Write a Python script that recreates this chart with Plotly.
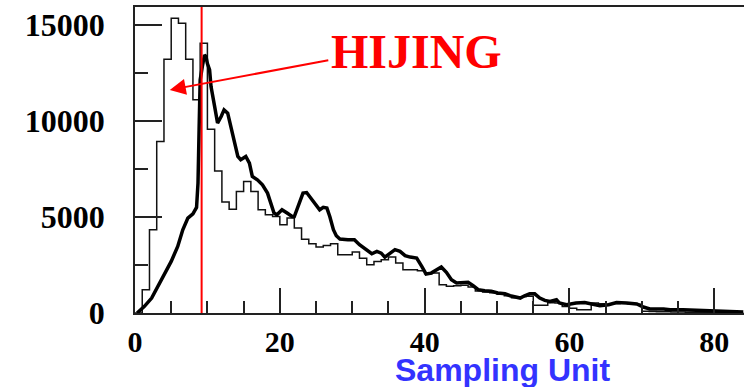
import plotly.graph_objects as go

# HIJING distribution: unit-width bins starting at 0
hijing_counts = [0, 1215, 4340, 8940, 13230, 15360, 15100, 13230, 11110, 14060,
                 9580, 7400, 5780, 5410, 6330, 6850, 6330, 5380, 5120, 5030,
                 4600, 4950, 4430, 3850, 3610, 3440, 3520, 3610, 3040, 3040,
                 3180, 2860, 2515, 2690, 2780, 2915, 2600, 2255, 2255, 2200,
                 2050, 2080, 1470, 1400, 1420, 1450, 1350, 1150, 1100, 1050,
                 980, 900, 800, 850, 870, 400, 400, 540, 520, 345,
                 250, 170, 170, 520, 480, 450, 500, 520, 480, 450,
                 85, 80, 70, 60, 50, 50, 40, 40, 30, 30,
                 20, 20, 20, 10]
hijing_edges = list(range(len(hijing_counts) + 1))

# Measured distribution (fine-grained curve)
meas_x = [0.3, 1.3, 2.3, 3.2, 4.1, 5.0, 5.9, 6.6, 7.3, 8.0, 8.5, 8.7, 8.85, 9.0,
          9.3, 9.6, 9.8, 10.0, 10.3, 10.5, 11.0, 11.4, 11.9, 12.3, 12.8, 13.2,
          13.7, 14.2, 14.6, 15.3, 15.8, 16.2, 16.9, 17.6, 18.3, 18.7, 19.2, 19.6,
          20.3, 21.0, 21.7, 22.0, 22.7, 23.2, 23.7, 24.1, 24.8, 25.5, 26.0, 26.5,
          26.9, 27.4, 27.8, 28.3, 29.4, 30.3, 31.0, 32.0, 32.7, 33.4, 34.0, 34.5,
          35.2, 35.9, 36.6, 37.3, 38.0, 38.9, 39.6, 40.2, 40.9, 41.6, 42.3, 43.0,
          43.7, 44.4, 45.3, 46.0, 46.7, 47.4, 48.3, 49.2, 50.1, 51.1, 51.8, 52.5,
          53.2, 53.8, 54.5, 55.2, 55.9, 56.6, 57.3, 58.2, 58.6, 59.6, 60.9, 62.1,
          63.3, 64.2, 65.4, 66.5, 67.9, 69.3, 70.2, 71.1, 73.0, 73.9, 75.7, 77.6,
          79.9, 80.9, 84.0]
meas_y = [0, 345, 780, 1390, 2080, 2690, 3470, 4340, 4950, 5170, 5500, 6770, 9550, 12150,
          12850, 13450, 13370, 13000, 12670, 11800, 10760, 9900, 10240, 10590, 10420, 9720,
          9030, 8160, 7990, 8160, 7810, 7120, 6940, 6680, 6250, 5730, 5210, 5120,
          5380, 5210, 5030, 5030, 5730, 6250, 6280, 6080, 5730, 5380, 5510, 5470,
          5030, 4340, 4030, 3860, 3820, 3820, 3560, 3300, 3090, 3210, 3120, 2915,
          3120, 3300, 3210, 2990, 2915, 2860, 2430, 2030, 2080, 2255, 2395, 2120,
          1735, 1560, 1560, 1600, 1420, 1215, 1160, 1130, 1040, 1000, 900, 830,
          780, 900, 1000, 1000, 780, 660, 600, 690, 520, 430, 520, 550,
          430, 380, 430, 550, 520, 470, 310, 210, 210, 170, 170, 140,
          140, 90, 50]

cut_x = 9.2
x_ticks = [0, 20, 40, 60, 80]
y_ticks = [0, 5000, 10000, 15000]

fig = go.Figure()

fig.add_trace(go.Scatter(
    x=hijing_edges, y=hijing_counts + [hijing_counts[-1]],
    mode="lines", line=dict(shape="hv", color="#111111", width=1.5),
    showlegend=False, hoverinfo="skip"))

fig.add_trace(go.Scatter(
    x=meas_x, y=meas_y, mode="lines",
    line=dict(color="#000000", width=3.5),
    showlegend=False, hoverinfo="skip"))

# vertical cut line
fig.add_shape(type="line", x0=cut_x, x1=cut_x, y0=0, y1=1, yref="paper",
              line=dict(color="#ff0000", width=2))

y_tick_font = dict(family="Liberation Serif", size=32, color="#000000")
x_tick_font = dict(family="Liberation Serif", size=30, color="#000000")

fig.update_layout(
    width=744, height=387,
    margin=dict(l=135, r=0, t=7, b=74),
    paper_bgcolor="white", plot_bgcolor="white",
    font=dict(family="Liberation Serif"),
    xaxis=dict(range=[0, 84.1], tickvals=x_ticks, ticktext=[f"<b>{v}</b>" for v in x_ticks],
               ticks="inside", ticklen=25, tickwidth=1.5, tickcolor="#222",
               minor=dict(dtick=5, ticks="inside", ticklen=12, tickwidth=1.5, tickcolor="#222"),
               showline=True, linecolor="#222", linewidth=1.5, mirror=True,
               showgrid=False, zeroline=False, tickfont=x_tick_font, ticklabelstandoff=1),
    yaxis=dict(range=[0, 15950], tickvals=y_ticks, ticktext=[f"<b>{v}</b>" for v in y_ticks],
               ticks="inside", ticklen=27, tickwidth=1.5, tickcolor="#222",
               minor=dict(dtick=2500, ticks="inside", ticklen=13, tickwidth=1.5, tickcolor="#222"),
               showline=True, linecolor="#222", linewidth=1.5, mirror=False,
               showgrid=False, zeroline=False, tickfont=y_tick_font, ticklabelstandoff=22),
    annotations=[
        dict(x=38.9, y=13630, xref="x", yref="y", text="<b>HIJING</b>", showarrow=False,
             font=dict(family="Liberation Serif", size=48, color="#ff0000"),
             xanchor="center", yanchor="middle"),
        dict(x=4.8, y=11630, ax=26.9, ay=13190, xref="x", yref="y", axref="x", ayref="y",
             text="", showarrow=True, arrowhead=2, arrowsize=1.6, arrowwidth=2,
             arrowcolor="#ff0000"),
        dict(x=0.604, y=-0.185, xref="paper", yref="paper", text="<b>Sampling Unit</b>",
             showarrow=False, xanchor="center", yanchor="middle",
             font=dict(family="Liberation Sans", size=32, color="#3333ff")),
    ],
)

fig.write_html("out.html")
